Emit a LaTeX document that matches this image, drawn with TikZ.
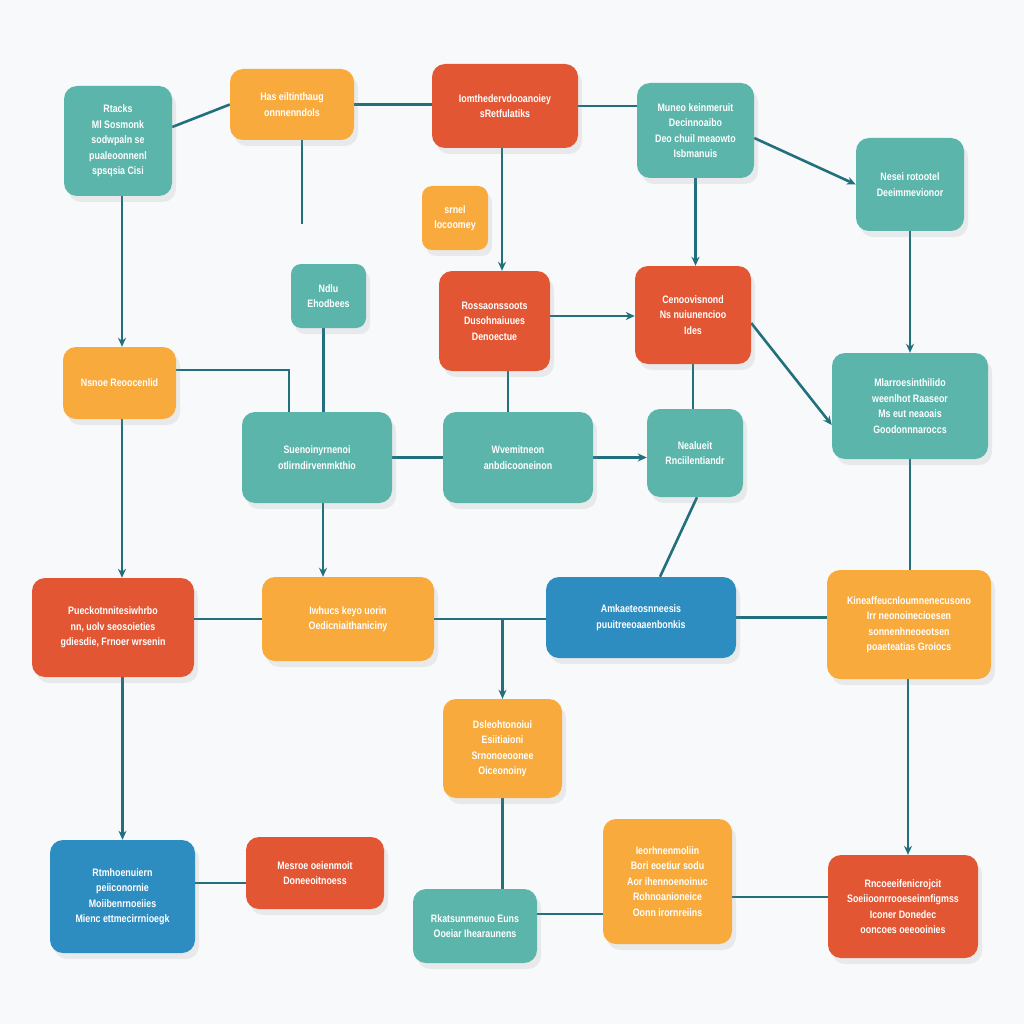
\documentclass[tikz,border=0pt]{standalone}
\usepackage{fontspec}
\setmainfont{Liberation Sans}[FakeStretch=0.82]
\usetikzlibrary{arrows.meta,shadows,backgrounds,calc}
\definecolor{tealc}{HTML}{5BB5AB}
\definecolor{orangec}{HTML}{F8AA3C}
\definecolor{redc}{HTML}{E25634}
\definecolor{bluec}{HTML}{2E8DC0}
\definecolor{linec}{HTML}{22707E}
\definecolor{bgc}{HTML}{F8F9FA}
\tikzset{
  box/.style={rounded corners=13pt, draw=none, text=white, align=center,
    font=\bfseries\fontsize{10.8}{15.5}\selectfont, inner sep=2pt,
    drop shadow={opacity=0.13, shadow xshift=4pt, shadow yshift=-6pt}},
  tbox/.style={box, fill=tealc},
  obox/.style={box, fill=orangec},
  rbox/.style={box, fill=redc},
  bbox/.style={box, fill=bluec},
  sz/.style 2 args={minimum width=#1, minimum height=#2},
  conn/.style={draw=linec, line width=2.6pt},
  arr/.style={conn, -{Stealth[length=9pt,width=8pt]}}
}
\begin{document}
\begin{tikzpicture}[x=1pt,y=-1pt]
\begin{scope}[on background layer]
\fill[bgc] (0,0) rectangle (1024,1024);
\end{scope}
\useasboundingbox (0,0) rectangle (1024,1024);

\node[tbox, sz={108pt}{110pt}] (t1) at (118,141) {Rtacks\\Ml Sosmonk\\sodwpaln se\\pualeoonnenl\\spsqsia Cisi};
\node[obox, sz={124pt}{71pt}] (o1) at (292,104.5) {Has eiltinthaug\\onnnenndols};
\node[rbox, sz={146pt}{84pt}] (r1) at (505,106) {Iomthedervdooanoiey\\sRetfulatiks};
\node[tbox, sz={117pt}{95pt}] (t2) at (695.5,130.5) {Muneo keinmeruit\\Decinnoaibo\\Deo chuil meaowto\\Isbmanuis};
\node[tbox, sz={108pt}{93pt}] (t3) at (910,184.5) {Nesei rotootel\\Deeimmevionor};
\node[obox, sz={66pt}{64pt}, rounded corners=10pt] (o2) at (455,218) {srnel\\locoomey};
\node[tbox, sz={75pt}{64pt}, rounded corners=10pt] (t4) at (328.5,296) {Ndlu\\Ehodbees};
\node[rbox, sz={111pt}{100pt}] (r2) at (494.5,321) {Rossaonssoots\\Dusohnaiuues\\Denoectue};
\node[rbox, sz={116pt}{98pt}] (r3) at (693,315) {Cenoovisnond\\Ns nuiunencioo\\Ides};
\node[obox, sz={113pt}{72pt}] (o3) at (119.5,383) {Nsnoe Reoocenlid};
\node[tbox, sz={150pt}{91pt}] (t5) at (317,457.5) {Suenoinyrnenoi\\otlirndirvenmkthio};
\node[tbox, sz={150pt}{91pt}] (t6) at (518,457.5) {Wvemitneon\\anbdicooneinon};
\node[tbox, sz={96pt}{88pt}] (t7) at (695,453) {Nealueit\\Rnciilentiandr};
\node[tbox, sz={156pt}{106pt}] (t8) at (910,406) {Mlarroesinthilido\\weenlhot Raaseor\\Ms eut neaoais\\Goodonnnaroccs};
\node[rbox, sz={162pt}{99pt}] (r4) at (113,627.5) {Pueckotnnitesiwhrbo\\nn, uolv seosoieties\\gdiesdie, Frnoer wrsenin};
\node[obox, sz={172pt}{84pt}] (o4) at (348,619) {Iwhucs keyo uorin\\Oedicniaithaniciny};
\node[bbox, sz={190pt}{81pt}] (b1) at (641,617.5) {Amkaeteosnneesis\\puuitreeoaaenbonkis};
\node[obox, sz={164pt}{109pt}] (o5) at (909,624.5) {Kineaffeucnloumnenecusono\\Irr neonoinecioesen\\sonnenhneoeotsen\\poaeteatias Groiocs};
\node[obox, sz={119pt}{99pt}] (o6) at (502.5,748.5) {Dsleohtonoiui\\Esiitiaioni\\Srnonoeoonee\\Oiceonoiny};
\node[bbox, sz={145pt}{113pt}] (b2) at (122.5,896.5) {Rtmhoenuiern\\peiiconornie\\Moiibenrnoeiies\\Mienc ettmecirrnioegk};
\node[rbox, sz={138pt}{72pt}] (r5) at (315,873) {Mesroe oeienmoit\\Doneeoitnoess};
\node[tbox, sz={124pt}{74pt}] (t9) at (475,926) {Rkatsunmenuo Euns\\Ooeiar Ihearaunens};
\node[obox, sz={129pt}{125pt}] (o7) at (667.5,881.5) {Ieorhnenmoliin\\Bori eoetiur sodu\\Aor ihennoenoinuc\\Rohnoanioneice\\Oonn irornreiins};
\node[rbox, sz={150pt}{103pt}] (r6) at (903,906.5) {Rncoeeifenicrojcit\\Soeiioonrrooeseinnfigmss\\Iconer Donedec\\ooncoes oeeooinies};

\coordinate (d1) at (302,224);

\begin{scope}[on background layer]
\draw[conn] ([yshift=14pt]t1.east) -- (o1.west);
\draw[conn] ([xshift=10pt]o1.south) -- (d1);
\draw[conn] (o1.east) -- (o1.east -| r1.west);
\draw[conn] (r1.east) -- (r1.east -| t2.west);
\draw[arr] ([yshift=-7.5pt]t2.east) -- (t3.west);
\draw[arr] (t2.south) -- (t2.south |- r3.north);
\draw[arr] ([xshift=-3pt]r1.south) -- ([xshift=-3pt]r1.south |- r2.north);
\draw[arr] (t3.south) -- (t8.north);
\draw[arr] ([xshift=4pt]t1.south) -- ([xshift=4pt]t1.south |- o3.north);
\draw[conn] ([yshift=13pt]o3.east) -| ([xshift=-28pt]t5.north);
\draw[conn] ([xshift=-5pt]t4.south) -- ([xshift=-5pt]t4.south |- t5.north);
\draw[arr] ([yshift=5pt]r2.east) -- ([yshift=5pt]r2.east -| r3.west);
\draw[conn] ([xshift=13.5pt]r2.south) -- ([xshift=13.5pt]r2.south |- t6.north);
\draw[conn] (r3.south) -- (r3.south |- t7.north);
\draw[arr] ([yshift=-8pt]r3.east) -- ([yshift=-19pt]t8.west);
\draw[conn] (t5.east) -- (t6.west);
\draw[arr] (t6.east) -- (t6.east -| t7.west);
\draw[conn] ([xshift=2pt]t7.south) -- ([xshift=19pt]b1.north);
\draw[arr] ([xshift=6pt]t5.south) -- ([xshift=6pt]t5.south |- o4.north);
\draw[arr] ([xshift=2.5pt]o3.south) -- ([xshift=2.5pt]o3.south |- r4.north);
\draw[conn] (r4.east |- o4.west) -- (o4.west);
\draw[conn] (o4.east) -- (o4.east -| b1.west);
\draw[arr] (o4.east -| o6.north) -- (o6.north);
\draw[conn] (b1.east) -- (b1.east -| o5.west);
\draw[conn] (t8.south) -- (t8.south |- o5.north);
\draw[arr] ([xshift=-1pt]o5.south) -- ([xshift=-1pt]o5.south |- r6.north);
\draw[arr] (b2.north |- r4.south) -- (b2.north);
\draw[conn] ([yshift=13.5pt]b2.east) -- ([yshift=13.5pt]b2.east -| r5.west);
\draw[conn] (o6.south) -- (o6.south |- t9.north);
\draw[conn] ([yshift=12pt]t9.east) -- ([yshift=12pt]t9.east -| o7.west);
\draw[conn] ([yshift=-15.5pt]o7.east) -- ([yshift=-15.5pt]o7.east -| r6.west);
\end{scope}
\end{tikzpicture}
\end{document}
